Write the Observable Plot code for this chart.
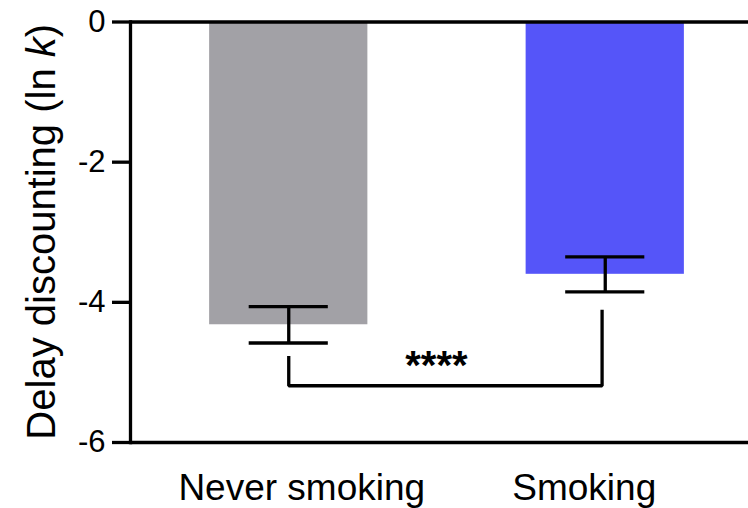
<!DOCTYPE html>
<html>
<head>
<meta charset="utf-8">
<script src="https://cdn.jsdelivr.net/npm/d3@7"></script>
<script src="https://cdn.jsdelivr.net/npm/@observablehq/plot@0.6"></script>
<style>
  html, body { margin: 0; padding: 0; background: #fff; }
  #chart svg { display: block; overflow: visible; }
</style>
</head>
<body>
<div id="chart"></div>
<script>
// Groups and their mean delay discounting (ln k) with SEM
const categories = ["Never smoking", "Smoking"];
const means = [-4.32, -3.6];
const sems = [0.26, 0.25];
const colors = ["#a2a1a6", "#5555f9"];
const yTicks = [0, -2, -4, -6];

// Significance bracket between the two groups
const bracketX = [0, 0, 0.99, 0.99];
const bracketY = [-4.79, -5.19, -5.19, -4.13];
const significance = "****";

const groups = categories.map((name, i) => ({
  name, i, mean: means[i], sem: sems[i], color: colors[i]
}));
const bracket = bracketX.map((x, k) => ({x, y: bracketY[k]}));

const font = "'Liberation Sans', Arial, Helvetica, sans-serif";
const W = 748, H = 508;
const barHalf = 0.25, capHalf = 0.125;
const lw = 3.3;

const plot = Plot.plot({
  width: W,
  height: H,
  marginTop: 21.5,
  marginBottom: 66,
  marginLeft: 130,
  marginRight: 0,
  style: {fontFamily: font, color: "#000", background: "#fff"},
  x: {type: "linear", domain: [-0.5, 1.5], range: [130, 763], axis: null},
  y: {domain: [-6, 0], axis: null},
  marks: [
    // bars hang down from zero
    Plot.rectY(groups, {
      x1: d => d.i - barHalf, x2: d => d.i + barHalf,
      y1: 0, y2: "mean", fill: "color"
    }),
    // error bars (SEM)
    Plot.ruleX(groups, {x: "i", y1: d => d.mean - d.sem, y2: d => d.mean + d.sem,
      stroke: "#000", strokeWidth: lw}),
    Plot.ruleY(groups, {y: d => d.mean - d.sem, x1: d => d.i - capHalf, x2: d => d.i + capHalf,
      stroke: "#000", strokeWidth: lw}),
    Plot.ruleY(groups, {y: d => d.mean + d.sem, x1: d => d.i - capHalf, x2: d => d.i + capHalf,
      stroke: "#000", strokeWidth: lw}),
    // significance bracket and stars
    Plot.line(bracket, {x: "x", y: "y", stroke: "#000", strokeWidth: lw,
      strokeLinejoin: "miter", strokeLinecap: "square"}),
    Plot.text([significance], {
      x: (bracketX[0] + bracketX[2]) / 2, y: bracketY[1],
      dx: -9, dy: -20, fontSize: 40, fontWeight: "bold", fill: "#000"
    }),
    // axis frame lines
    Plot.ruleY([0, -6], {stroke: "#000", strokeWidth: lw}),
    Plot.frame({anchor: "left", stroke: "#000", strokeWidth: lw}),
    Plot.axisY({
      ticks: yTicks, tickFormat: d => String(d), tickSize: 18, tickPadding: 7,
      fontSize: 31, stroke: "#000", strokeWidth: lw, label: null, fill: "#000"
    }),
    Plot.axisX({ticks: [0], tickFormat: i => categories[i], tickSize: 0, tickPadding: 31,
      fontSize: 37, dx: 13, label: null, fill: "#000"}),
    Plot.axisX({ticks: [1], tickFormat: i => categories[i], tickSize: 0, tickPadding: 31,
      fontSize: 37, dx: -21, label: null, fill: "#000"})
  ]
});

// y-axis title with italic k
const svg = d3.select(plot);
const title = svg.append("text")
  .attr("transform", `translate(55,${(21.5 + (H - 66)) / 2}) rotate(-90)`)
  .attr("text-anchor", "middle")
  .attr("font-family", font)
  .attr("font-size", 40)
  .attr("fill", "#000");
title.append("tspan").text("Delay discounting (ln ");
title.append("tspan").attr("font-style", "italic").text("k");
title.append("tspan").text(")");

document.getElementById("chart").append(plot);
</script>
</body>
</html>
